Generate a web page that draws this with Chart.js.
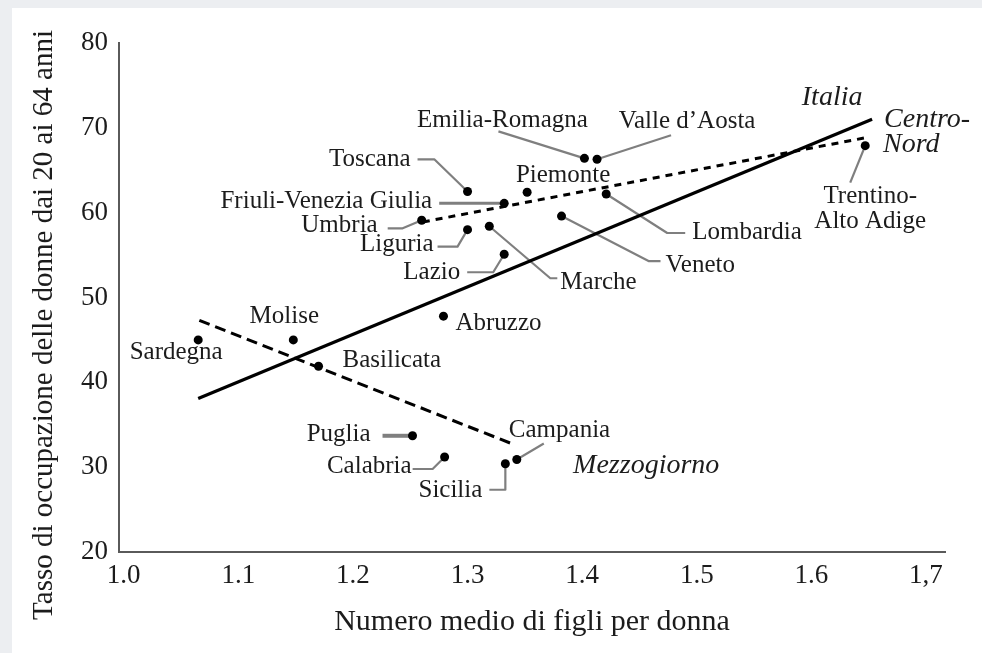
<!DOCTYPE html>
<html>
<head>
<meta charset="utf-8">
<script src="https://cdn.jsdelivr.net/npm/chart.js@4.4.1/dist/chart.umd.min.js"></script>
<style>
  html, body { margin: 0; padding: 0; width: 982px; height: 653px; overflow: hidden; background: #eceef1; }
  #panel { position: absolute; left: 12px; top: 8px; right: 0; bottom: 0; background: #fff; }
  #wrap { position: absolute; left: 0; top: 0; width: 982px; height: 653px; }
</style>
</head>
<body>
<div id="panel"></div>
<div id="wrap"><canvas id="chart" width="982" height="653"></canvas></div>
<script>
// Regioni: numero medio di figli per donna vs tasso di occupazione femminile (20-64 anni)
const regions = [
  'Sardegna', 'Molise', 'Basilicata', 'Abruzzo', 'Puglia', 'Calabria', 'Sicilia', 'Campania',
  'Emilia-Romagna', 'Valle d’Aosta', 'Toscana', 'Piemonte', 'Friuli-Venezia Giulia', 'Umbria',
  'Liguria', 'Marche', 'Lazio', 'Lombardia', 'Veneto', 'Trentino-Alto Adige'
];
const fertility = [
  1.065, 1.148, 1.170, 1.279, 1.252, 1.280, 1.333, 1.343,
  1.402, 1.413, 1.300, 1.352, 1.332, 1.260,
  1.300, 1.319, 1.332, 1.421, 1.382, 1.647
];
const employment = [
  45.0, 45.0, 41.9, 47.8, 33.7, 31.2, 30.4, 30.9,
  66.4, 66.3, 62.5, 62.4, 61.1, 59.1,
  58.0, 58.4, 55.1, 62.2, 59.6, 67.9
];

// rette di tendenza
const italiaX = [1.065, 1.653];
const italiaY = [38.1, 71.0];
const mezzogiornoX = [1.066, 1.338];
const mezzogiornoY = [47.3, 32.8];
const centroNordX = [1.261, 1.646];
const centroNordY = [58.9, 68.8];

const xTickValues = [1.0, 1.1, 1.2, 1.3, 1.4, 1.5, 1.6, 1.7];
const xTickLabels = ['1.0', '1.1', '1.2', '1.3', '1.4', '1.5', '1.6', '1,7'];
const yTickValues = [20, 30, 40, 50, 60, 70, 80];

const xTitle = 'Numero medio di figli per donna';
const yTitle = 'Tasso di occupazione delle donne dai 20 ai 64 anni';

const SERIF = '"Liberation Serif", "Times New Roman", serif';
const INK = '#1c1c1c';
const LEADER = '#7f7f7f';

// label placement, in pixels relative to each dot
const labelLayout = {
  'Sardegna': { dx: -22, dy: 13, align: 'center' },
  'Molise': { dx: -9, dy: -23, align: 'center' },
  'Basilicata': { dx: 24, dy: -6, align: 'left' },
  'Abruzzo': { dx: 12, dy: 7, align: 'left' },
  'Puglia': { dx: -42, dy: -1, align: 'right', path: [[-30, 0]], lw: 4 },
  'Calabria': { dx: -33, dy: 9, align: 'right', path: [[-12, 12], [-32, 12]] },
  'Sicilia': { dx: -23, dy: 27, align: 'right', path: [[0, 26], [-16, 26]] },
  'Campania': { dx: -8, dy: -29, align: 'left', path: [[27, -16]] },
  'Emilia-Romagna': { dx: -82, dy: -38, align: 'center', path: [[-86, -27]] },
  'Valle d’Aosta': { dx: 90, dy: -38, align: 'center', path: [[74, -24]] },
  'Toscana': { dx: -57, dy: -32, align: 'right', path: [[-33, -32], [-50, -32]] },
  'Piemonte': { dx: 36, dy: -17, align: 'center' },
  'Friuli-Venezia Giulia': { dx: -72, dy: -2, align: 'right', path: [[-65, 0]], lw: 3 },
  'Umbria': { dx: -44, dy: 5, align: 'right', path: [[-19, 8], [-34, 8]] },
  'Liguria': { dx: -34, dy: 15, align: 'right', path: [[-10, 17], [-30, 17]] },
  'Marche': { dx: 71, dy: 56, align: 'left', path: [[61, 52], [68, 52]] },
  'Lazio': { dx: -44, dy: 18, align: 'right', path: [[-11, 18], [-37, 18]] },
  'Lombardia': { dx: 86, dy: 38, align: 'left', path: [[61, 39], [79, 39]] },
  'Veneto': { dx: 104, dy: 49, align: 'left', path: [[87, 45], [99, 45]] },
  'Trentino-Alto Adige': { dx: 5, dy: 51, align: 'center', lines: ['Trentino-', 'Alto Adige'], lh: 25, path: [[-15, 37]] }
};

const pts = regions.map((r, i) => ({ x: fertility[i], y: employment[i] }));
const toPts = (xs, ys) => xs.map((v, i) => ({ x: v, y: ys[i] }));

const annotations = {
  id: 'annotations',
  beforeDatasetsDraw(chart) {
    const { ctx, scales: { x, y } } = chart;
    ctx.save();
    ctx.strokeStyle = LEADER;
    ctx.lineJoin = 'round';
    regions.forEach((name, i) => {
      const lay = labelLayout[name];
      if (!lay.path) return;
      const px = x.getPixelForValue(fertility[i]);
      const py = y.getPixelForValue(employment[i]);
      ctx.lineWidth = lay.lw || 2.2;
      ctx.beginPath();
      ctx.moveTo(px, py);
      lay.path.forEach(([dx, dy]) => ctx.lineTo(px + dx, py + dy));
      ctx.stroke();
    });
    ctx.restore();
  },
  afterDatasetsDraw(chart) {
    const { ctx, scales: { x, y } } = chart;
    ctx.save();
    ctx.fillStyle = INK;
    ctx.textBaseline = 'middle';
    ctx.font = '25px ' + SERIF;
    regions.forEach((name, i) => {
      const lay = labelLayout[name];
      const px = x.getPixelForValue(fertility[i]);
      const py = y.getPixelForValue(employment[i]);
      ctx.textAlign = lay.align;
      const lines = lay.lines || [name];
      lines.forEach((t, k) => ctx.fillText(t, px + lay.dx, py + lay.dy + k * (lay.lh || 0)));
    });

    // group names, italic, next to the end of their trend line
    ctx.font = 'italic 28px ' + SERIF;
    const groupLabel = (t, xs, ys, dx, dy, align) => {
      ctx.textAlign = align;
      ctx.fillText(t, x.getPixelForValue(xs[1]) + dx, y.getPixelForValue(ys[1]) + dy);
    };
    groupLabel('Italia', italiaX, italiaY, -40, -22, 'center');
    groupLabel('Centro-', centroNordX, centroNordY, 20, -18, 'left');
    groupLabel('Nord', centroNordX, centroNordY, 19, 7, 'left');
    groupLabel('Mezzogiorno', mezzogiornoX, mezzogiornoY, 62, 22, 'left');

    // y axis title
    ctx.font = '29px ' + SERIF;
    ctx.textAlign = 'center';
    ctx.translate(44, 325);
    ctx.rotate(-Math.PI / 2);
    ctx.fillText(yTitle, 0, 0);
    ctx.restore();
  }
};

new Chart(document.getElementById('chart'), {
  type: 'scatter',
  data: {
    datasets: [
      {
        label: 'Italia',
        data: toPts(italiaX, italiaY),
        showLine: true,
        borderColor: '#000',
        borderWidth: 3.2,
        pointRadius: 0,
        fill: false
      },
      {
        label: 'Mezzogiorno',
        data: toPts(mezzogiornoX, mezzogiornoY),
        showLine: true,
        borderColor: '#000',
        borderWidth: 3,
        borderDash: [11, 6],
        pointRadius: 0,
        fill: false
      },
      {
        label: 'Centro-Nord',
        data: toPts(centroNordX, centroNordY),
        showLine: true,
        borderColor: '#000',
        borderWidth: 3,
        borderDash: [7, 6],
        pointRadius: 0,
        fill: false
      },
      {
        label: 'Regioni',
        data: pts,
        backgroundColor: '#000',
        borderColor: '#000',
        pointRadius: 4.5,
        borderWidth: 0
      }
    ]
  },
  options: {
    responsive: false,
    animation: false,
    devicePixelRatio: 1,
    layout: { padding: { top: 43, right: 37, left: 0, bottom: 0 } },
    plugins: {
      legend: { display: false },
      tooltip: { enabled: false }
    },
    scales: {
      x: {
        type: 'linear',
        min: 0.9959,
        max: 1.7166,
        afterBuildTicks: (axis) => { axis.ticks = xTickValues.map(v => ({ value: v })); },
        afterFit: (axis) => { axis.height = 101; },
        grid: { display: false, drawTicks: false },
        border: { display: true, color: '#5a5a5a', width: 2 },
        ticks: {
          padding: 8,
          color: INK,
          font: { family: SERIF, size: 27 },
          maxRotation: 0,
          autoSkip: false,
          callback: (v, i) => xTickLabels[i]
        },
        title: {
          display: true,
          text: xTitle,
          color: INK,
          font: { family: SERIF, size: 30 },
          padding: { top: 0, bottom: 13 }
        }
      },
      y: {
        type: 'linear',
        min: 20,
        max: 80,
        afterBuildTicks: (axis) => { axis.ticks = yTickValues.map(v => ({ value: v })); },
        afterFit: (axis) => { axis.width = 119; },
        grid: { display: false, drawTicks: false },
        border: { display: true, color: '#5a5a5a', width: 2 },
        ticks: {
          padding: 11,
          color: INK,
          font: { family: SERIF, size: 27 },
          callback: (v) => String(v)
        }
      }
    }
  },
  plugins: [annotations]
});
</script>
</body>
</html>
